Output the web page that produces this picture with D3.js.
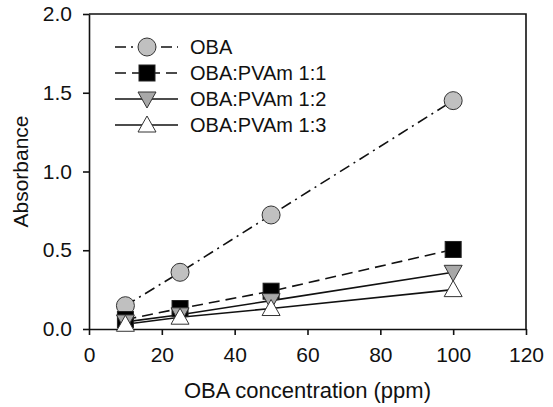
<!DOCTYPE html>
<html>
<head>
<meta charset="utf-8">
<script src="https://cdn.jsdelivr.net/npm/d3@7"></script>
<style>
  body { margin: 0; background: #fff; }
  text { font-family: "Liberation Sans", Arial, sans-serif; fill: #111; }
</style>
</head>
<body>
<script>
// data
const concentrations = [10, 25, 50, 100];
const obaValues = [0.148, 0.36, 0.724, 1.45];
const ratio11Values = [0.06, 0.13, 0.24, 0.505];
const ratio12Values = [0.045, 0.09, 0.18, 0.36];
const ratio13Values = [0.03, 0.075, 0.13, 0.25];
const seriesNames = ["OBA", "OBA:PVAm 1:1", "OBA:PVAm 1:2", "OBA:PVAm 1:3"];
const xTicks = [0, 20, 40, 60, 80, 100, 120];
const yTicks = [0, 0.5, 1.0, 1.5, 2.0];

const allValues = [obaValues, ratio11Values, ratio12Values, ratio13Values];
const styles = [
  { marker: "circle", fill: "#c0c0c0", dash: "11,5,2,5" },
  { marker: "square", fill: "#000", dash: "11,6" },
  { marker: "down", fill: "#a8a8a8", dash: null },
  { marker: "up", fill: "#fff", dash: null }
];

const series = seriesNames.map((name, i) => ({
  name: name,
  style: styles[i],
  points: concentrations.map((c, j) => ({ x: c, y: allValues[i][j] }))
}));

let width = 553, height = 407;
let margin = { top: 14, right: 27, bottom: 78, left: 89 };

let svg = d3.select("body").append("svg")
  .attr("width", width)
  .attr("height", height);

const xScale = d3.scaleLinear().domain([0, 120]).range([margin.left, width - margin.right]);
const yScale = d3.scaleLinear().domain([0, 2]).range([height - margin.bottom, margin.top]);

// frame (top and right)
svg.append("path")
  .attr("d", `M${xScale(0)},${yScale(2)}H${xScale(120)}V${yScale(0)}`)
  .attr("fill", "none")
  .attr("stroke", "#111")
  .attr("stroke-width", 1.6);

let xAxis = svg.append("g")
  .attr("transform", `translate(0,${yScale(0)})`)
  .call(d3.axisBottom(xScale).tickValues(xTicks).tickSize(6).tickSizeOuter(0).tickPadding(12));

let yAxis = svg.append("g")
  .attr("transform", `translate(${xScale(0)},0)`)
  .call(d3.axisLeft(yScale).tickValues(yTicks).tickSize(6).tickSizeOuter(0).tickPadding(11)
    .tickFormat(d3.format(".1f")));

[xAxis, yAxis].forEach(ax => {
  ax.selectAll(".domain").attr("stroke", "#111").attr("stroke-width", 1.6);
  ax.selectAll(".tick line").attr("stroke", "#111").attr("stroke-width", 1.6);
  ax.selectAll(".tick text").style("font-size", "21px").attr("fill", "#111");
});

// axis titles
svg.append("text")
  .attr("x", (xScale(0) + xScale(120)) / 2)
  .attr("y", 398)
  .attr("text-anchor", "middle")
  .style("font-size", "22px")
  .text("OBA concentration (ppm)");

svg.append("text")
  .attr("transform", `translate(28,${yScale(1)}) rotate(-90)`)
  .attr("text-anchor", "middle")
  .style("font-size", "21px")
  .text("Absorbance");

function drawMarker(g, type, fill, cx, cy) {
  if (type === "circle") {
    g.append("circle").attr("cx", cx).attr("cy", cy).attr("r", 9)
      .attr("fill", fill).attr("stroke", "#333").attr("stroke-width", 1);
  } else if (type === "square") {
    g.append("rect").attr("x", cx - 8).attr("y", cy - 8).attr("width", 16).attr("height", 16)
      .attr("fill", fill).attr("stroke", "#222").attr("stroke-width", 1);
  } else if (type === "down") {
    g.append("path").attr("d", `M${cx - 9},${cy - 7}L${cx + 9},${cy - 7}L${cx},${cy + 9}Z`)
      .attr("fill", fill).attr("stroke", "#333").attr("stroke-width", 1);
  } else {
    g.append("path").attr("d", `M${cx - 9},${cy + 7}L${cx + 9},${cy + 7}L${cx},${cy - 9}Z`)
      .attr("fill", fill).attr("stroke", "#333").attr("stroke-width", 1);
  }
}

const line = d3.line().x(d => xScale(d.x)).y(d => yScale(d.y));

// lines
svg.selectAll(".series-line")
  .data(series)
  .enter()
  .append("path")
  .attr("class", "series-line")
  .attr("d", d => line(d.points))
  .attr("fill", "none")
  .attr("stroke", "#111")
  .attr("stroke-width", 1.6)
  .attr("stroke-dasharray", d => d.style.dash);

// markers
series.forEach(s => {
  let g = svg.append("g");
  s.points.forEach(p => drawMarker(g, s.style.marker, s.style.fill, xScale(p.x), yScale(p.y)));
});

// legend
const legendX = 115, legendY = 47, legendStep = 26;
series.forEach((s, i) => {
  let g = svg.append("g").attr("transform", `translate(${legendX},${legendY + i * legendStep})`);
  g.append("line")
    .attr("x1", 0).attr("x2", 63)
    .attr("stroke", "#111").attr("stroke-width", 1.6)
    .attr("stroke-dasharray", s.style.dash);
  drawMarker(g, s.style.marker, s.style.fill, 32, 0);
  g.append("text")
    .attr("x", 75)
    .attr("dy", "0.35em")
    .style("font-size", "20px")
    .text(s.name);
});
</script>
</body>
</html>
